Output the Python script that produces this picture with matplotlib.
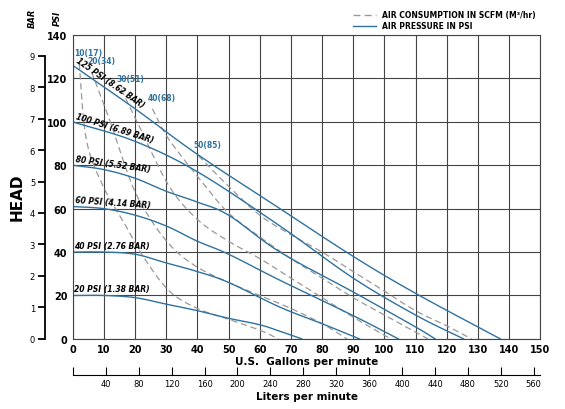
import matplotlib.pyplot as plt
import numpy as np

# air pressure curves (gpm, psi head)
psi_curves = {
    "20 PSI (1.38 BAR)": ([0, 10, 20, 30, 40, 50, 60, 66.5, 73.5], [20, 20, 19, 16, 13, 9.5, 6.5, 3.5, 0]),
    "40 PSI (2.76 BAR)": ([0, 10, 20, 30, 40, 50, 66.5, 80, 92], [40, 40, 39, 35, 31, 26, 14.6, 7, 0]),
    "60 PSI (4.14 BAR)": ([0, 10, 20, 30, 40, 50, 66.5, 90, 104.5], [61, 60, 57, 52, 45, 39, 27, 10.7, 0]),
    "80 PSI (5.52 BAR)": ([0, 10, 20, 30, 40, 50, 66.5, 90, 110, 116.3], [80, 78, 74, 68, 63, 57, 40, 21.6, 5.5, 0]),
    "100 PSI (6.89 BAR)": ([0, 20, 40, 66.5, 90, 110, 125.4], [100, 91, 77, 52, 28, 11, 0]),
    "125 PSI (8.62 BAR)": ([0, 20, 40, 66.5, 90, 110, 137.2], [126, 106, 85, 60, 38, 21, 0]),
}

# air consumption curves
scfm_curves = {
    "10(17)": ([2, 4.3, 9.5, 17, 23, 31, 40, 50, 60, 66], [127, 92, 71, 52, 37, 22, 14, 9, 4, 0]),
    "20(34)": ([6, 12, 19, 25, 32, 40, 50, 60, 70, 80, 88], [123, 100, 71, 55, 42, 33, 26, 20, 14, 7, 0]),
    "30(51)": ([15.5, 21.3, 30.8, 40, 50, 60, 70, 80, 90, 102], [115, 98, 70.6, 55, 45, 37, 28, 19, 10, 0]),
    "40(68)": ([25.5, 30.8, 42.4, 50, 60, 70, 80, 90, 100, 114], [106, 92, 70.6, 58, 47, 37, 28, 19, 11, 0]),
    "50(85)": ([40.3, 49.8, 60, 70, 80, 90, 100, 110, 120, 128], [84.4, 70.6, 57, 48, 40, 31, 22, 13, 6, 0]),
}


def smooth(x, y, n=12):
    # catmull-rom through the read points, just for drawing
    p = np.column_stack([x, y]).astype(float)
    p = np.vstack([2 * p[0] - p[1], p, 2 * p[-1] - p[-2]])
    out = []
    t = np.linspace(0, 1, n, endpoint=False)[:, None]
    for i in range(1, len(p) - 2):
        p0, p1, p2, p3 = p[i - 1], p[i], p[i + 1], p[i + 2]
        out.append(0.5 * (2 * p1 + (-p0 + p2) * t + (2 * p0 - 5 * p1 + 4 * p2 - p3) * t ** 2
                          + (-p0 + 3 * p1 - 3 * p2 + p3) * t ** 3))
    out.append(p[-2][None, :])
    out = np.vstack(out)
    return out[:, 0], out[:, 1]


blue = "#2f72a0"
fig = plt.figure(figsize=(5.65, 4.1), dpi=100)
ax = fig.add_axes([0.129, 0.171, 0.827, 0.741])
ax.set_xlim(0, 150)
ax.set_ylim(0, 140)

for name, (x, y) in scfm_curves.items():
    sx, sy = smooth(x, y)
    ax.plot(sx, sy, color="#999999", lw=0.9, ls=(0, (5, 3)))
    ax.text(x[0] - 1.5, y[0] + 4, name, color=blue, fontsize=5.5, fontweight="bold")

for name, (x, y) in psi_curves.items():
    sx, sy = smooth(x, y)
    ax.plot(sx, sy, color=blue, lw=1.0)
    # label angle follows the first part of the curve on screen
    d = ax.transData.transform([[x[0], y[0]], [x[1], y[1]]])
    rot = np.degrees(np.arctan2(d[1, 1] - d[0, 1], d[1, 0] - d[0, 0]))
    ax.text(0.5, y[0] + 1, name, fontsize=5.5, fontweight="bold", style="italic",
            rotation=rot, rotation_mode="anchor", va="bottom")

ax.set_xticks(range(0, 151, 10))
ax.set_yticks(range(0, 141, 20))
ax.grid(True, color="#444444", lw=0.8)
ax.tick_params(length=0, labelsize=7, pad=4)
for lab in ax.get_xticklabels() + ax.get_yticklabels():
    lab.set_fontweight("bold")
for s in ax.spines.values():
    s.set_color("#444444")
ax.set_xlabel("U.S.  Gallons per minute", fontsize=7.5, fontweight="bold", labelpad=1)

# liters axis
sec = ax.secondary_xaxis(-0.118, functions=(lambda g: g * 3.785, lambda l: l / 3.785))
sec.set_xticks(range(0, 561, 40))
sec.set_xticklabels([""] + [str(v) for v in range(40, 561, 40)])
sec.tick_params(direction="in", length=6, labelsize=6, pad=3)
sec.set_xlabel("Liters per minute", fontsize=7.5, fontweight="bold", labelpad=2)

# bar axis
bar = ax.secondary_yaxis(-0.06, functions=(lambda p: p / 14.5038, lambda b: b * 14.5038))
bar.set_yticks(range(0, 10))
bar.spines["left"].set_bounds(0, 9)
bar.spines["left"].set_linewidth(1.3)
bar.tick_params(length=5, width=1.3, labelsize=6, pad=2)

fig.text(0.058, 0.955, "BAR", rotation=90, fontsize=6, fontweight="bold", style="italic", ha="center", va="center")
fig.text(0.101, 0.955, "PSI", rotation=90, fontsize=6, fontweight="bold", style="italic", ha="center", va="center")
fig.text(0.03, 0.52, "HEAD", rotation=90, fontsize=11, fontweight="bold", ha="center", va="center")

ax.plot([], [], color="#999999", ls=(0, (5, 3)), lw=1, label="AIR CONSUMPTION IN SCFM (M³/hr)")
ax.plot([], [], color=blue, lw=1, label="AIR PRESSURE IN PSI")
ax.legend(loc="lower right", bbox_to_anchor=(1.0, 1.0), frameon=False,
          handlelength=3, borderpad=0.1, labelspacing=0.3, prop={"weight": "bold", "size": 5.5})

fig.savefig("out.png")
